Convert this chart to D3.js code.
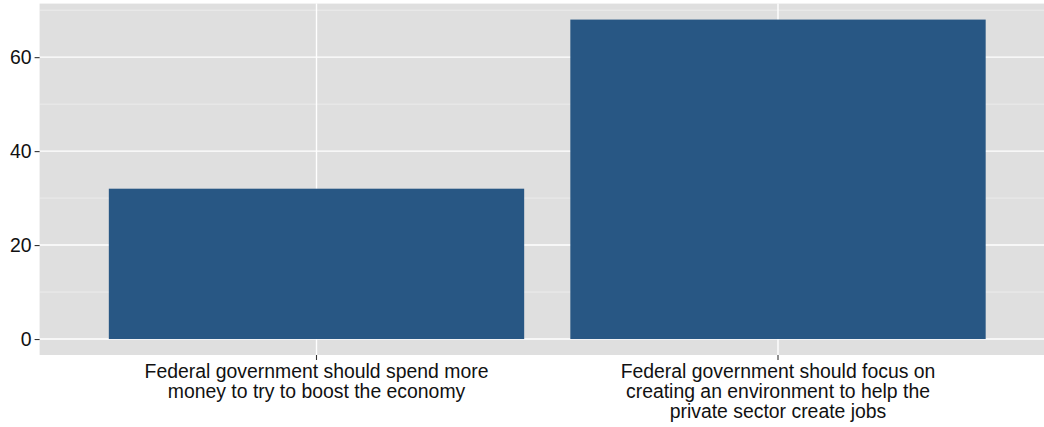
<!DOCTYPE html>
<html>
<head>
<meta charset="utf-8">
<script src="https://cdn.jsdelivr.net/npm/d3@7"></script>
<style>
  html, body { margin: 0; padding: 0; background: #ffffff; }
  svg { display: block; }
  text { font-family: "Liberation Sans", Arial, sans-serif; }
</style>
</head>
<body>
<svg id="chart" width="1044" height="427"></svg>
<script>
const categories = [
  "Federal government should spend more\nmoney to try to boost the economy",
  "Federal government should focus on\ncreating an environment to help the\nprivate sector create jobs"
];
const values = [32, 68];
const yTicks = [0, 20, 40, 60];
const yMinor = [10, 30, 50, 70];

const W = 1044, H = 427;
const svg = d3.select("#chart");

const panel = { left: 39.6, right: 1054.9, top: 3.6, bottom: 355 };

const maxV = d3.max(values);
const expand = maxV * 0.05;

const x = d3.scaleBand()
  .domain(categories)
  .range([panel.left, panel.right])
  .paddingInner(0.1)
  .paddingOuter(0.15);

const y = d3.scaleLinear()
  .domain([-expand, maxV + expand])
  .range([panel.bottom, panel.top]);

// panel background
svg.append("rect")
  .attr("x", panel.left).attr("y", panel.top)
  .attr("width", panel.right - panel.left)
  .attr("height", panel.bottom - panel.top)
  .attr("fill", "#dfdfdf");

// minor gridlines
svg.append("g").selectAll("line").data(yMinor).join("line")
  .attr("x1", panel.left).attr("x2", panel.right)
  .attr("y1", d => y(d)).attr("y2", d => y(d))
  .attr("stroke", "#ffffff").attr("stroke-width", 0.7).attr("opacity", 0.6);

// major gridlines
svg.append("g").selectAll("line").data(yTicks).join("line")
  .attr("x1", panel.left).attr("x2", panel.right)
  .attr("y1", d => y(d)).attr("y2", d => y(d))
  .attr("stroke", "#ffffff").attr("stroke-width", 1.4);

svg.append("g").selectAll("line").data(categories).join("line")
  .attr("x1", d => x(d) + x.bandwidth() / 2).attr("x2", d => x(d) + x.bandwidth() / 2)
  .attr("y1", panel.top).attr("y2", panel.bottom)
  .attr("stroke", "#ffffff").attr("stroke-width", 1.4);

// bars
svg.append("g").selectAll("rect").data(values).join("rect")
  .attr("x", (d, i) => x(categories[i]))
  .attr("width", x.bandwidth())
  .attr("y", d => y(d))
  .attr("height", d => y(0) - y(d))
  .attr("fill", "#285784");

// y axis
const yAxis = d3.axisLeft(y).tickValues(yTicks).tickSize(5).tickPadding(3);
const gy = svg.append("g").attr("transform", `translate(${panel.left},0)`).call(yAxis);
gy.select(".domain").remove();
gy.selectAll(".tick line").attr("stroke", "#333333").attr("stroke-width", 1.1);
gy.selectAll(".tick text")
  .attr("fill", "#111111")
  .style("font-size", "19.4px")
  .style("font-family", "'Liberation Sans', Arial, sans-serif");

// x axis
const xAxis = d3.axisBottom(x).tickSize(5).tickFormat("");
const gx = svg.append("g").attr("transform", `translate(0,${panel.bottom})`).call(xAxis);
gx.select(".domain").remove();
gx.selectAll(".tick line").attr("stroke", "#333333").attr("stroke-width", 1.1);

// multiline x labels
const lineH = 20.3;
svg.append("g").selectAll("text").data(categories).join("text")
  .attr("text-anchor", "middle")
  .attr("fill", "#111111")
  .style("font-size", "19.4px")
  .each(function(d) {
    const t = d3.select(this);
    const cx = x(d) + x.bandwidth() / 2;
    d.split("\n").forEach((line, k) => {
      t.append("tspan")
        .attr("x", cx)
        .attr("y", 377.5 + k * lineH)
        .text(line);
    });
  });
</script>
</body>
</html>
